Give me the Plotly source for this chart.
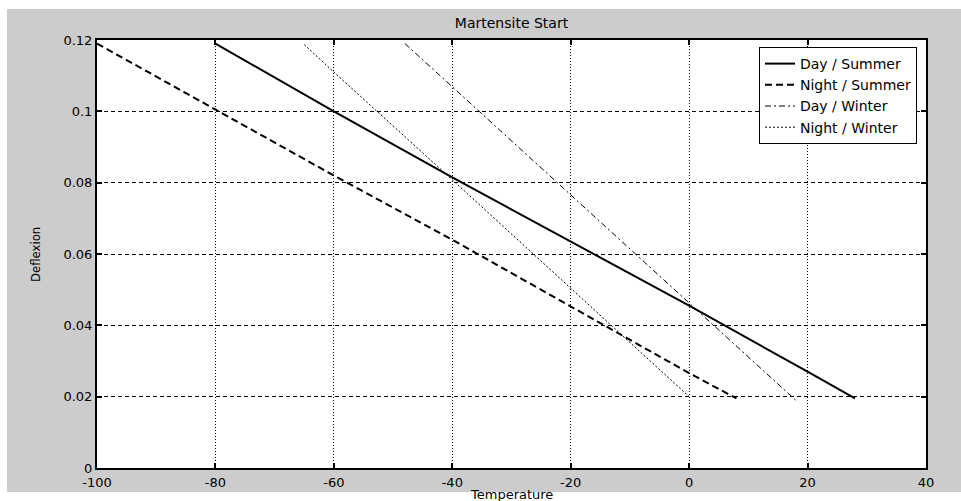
import plotly.graph_objects as go

# ---- data ----
day_summer_T = [-80, -60, -40, -20, 0, 20, 28]
day_summer_D = [0.119, 0.100, 0.0815, 0.0635, 0.0455, 0.027, 0.0195]

night_summer_T = [-100, -80, -60, -40, -20, 0, 8]
night_summer_D = [0.119, 0.1005, 0.082, 0.064, 0.0452, 0.0266, 0.0195]

day_winter_T = [-48, -40, -20, 0, 18]
day_winter_D = [0.119, 0.1069, 0.0766, 0.0463, 0.019]

night_winter_T = [-65, -60, -40, -20, 0]
night_winter_D = [0.1187, 0.111, 0.0808, 0.0504, 0.020]

x_ticks = [-100, -80, -60, -40, -20, 0, 20, 40]
x_tick_labels = ["-100", "-80", "-60", "-40", "-20", "0", "20", "40"]
y_ticks = [0, 0.02, 0.04, 0.06, 0.08, 0.10, 0.12]
y_tick_labels = ["0", "0.02", "0.04", "0.06", "0.08", "0.1", "0.12"]

FONT = "DejaVu Sans, Verdana, sans-serif"
FS = 14
TFS = 13

fig = go.Figure()
fig.add_trace(go.Scatter(x=day_summer_T, y=day_summer_D, mode="lines", name="Day / Summer",
                         line=dict(color="black", width=2)))
fig.add_trace(go.Scatter(x=night_summer_T, y=night_summer_D, mode="lines", name="Night / Summer",
                         line=dict(color="black", width=2, dash="7px,4px")))
fig.add_trace(go.Scatter(x=day_winter_T, y=day_winter_D, mode="lines", name="Day / Winter",
                         line=dict(color="black", width=1, dash="6px,3px,2px,3px")))
fig.add_trace(go.Scatter(x=night_winter_T, y=night_winter_D, mode="lines", name="Night / Winter",
                         line=dict(color="black", width=1, dash="2px,2px")))

W, H = 961, 501
L, R, T, B = 97, 35, 40, 33
pw, ph = W - L - R, H - T - B

def px_x(px):
    return (px - L) / pw

def px_y(py):
    return (H - B - py) / ph

fig.update_layout(
    width=W, height=H,
    margin=dict(l=L, r=R, t=T, b=B),
    paper_bgcolor="#cccccc",
    plot_bgcolor="white",
    font=dict(family=FONT, size=FS, color="black"),
    showlegend=True,
    legend=dict(x=px_x(917), y=px_y(47), xanchor="right", yanchor="top",
                bgcolor="white", bordercolor="black", borderwidth=1,
                font=dict(family=FONT, size=FS), tracegroupgap=0,
                itemwidth=30),
    title=dict(text="Martensite Start", x=(L + pw / 2) / W, xanchor="center",
               y=1 - 23 / H, yanchor="middle", yref="container",
               font=dict(family=FONT, size=FS)),
)

fig.update_xaxes(
    range=[-100, 40], tickvals=x_ticks, ticktext=x_tick_labels, ticks="inside", ticklen=5,
    tickwidth=2, tickcolor="black", showline=True, linecolor="black", linewidth=2,
    mirror="ticks", showgrid=True, gridcolor="black", gridwidth=1, griddash="1px,2px",
    zeroline=False, tickfont=dict(family=FONT, size=TFS), ticklabelstandoff=1,
)
fig.update_yaxes(
    range=[0, 0.12], tickvals=y_ticks, ticktext=y_tick_labels, ticks="inside", ticklen=5,
    tickwidth=2, tickcolor="black", showline=True, linecolor="black", linewidth=2,
    mirror="ticks", showgrid=True, gridcolor="black", gridwidth=1, griddash="4px,3px",
    zeroline=False, tickfont=dict(family=FONT, size=TFS),
)

# white frame around the grey figure area (as in the reference screenshot)
for (x0, x1, y0, y1) in [
    (-2, 3, px_y(9), 3),          # top strip
    (-2, px_x(7), -2, 3),         # left strip
    (-2, 3, -2, px_y(492)),       # bottom strip
]:
    fig.add_shape(type="rect", xref="paper", yref="paper", x0=x0, x1=x1, y0=y0, y1=y1,
                  fillcolor="white", line=dict(width=0), layer="below")

# axis titles
fig.add_annotation(text="Temperature", xref="paper", yref="paper", x=0.5, y=px_y(494),
                   xanchor="center", yanchor="middle", showarrow=False,
                   font=dict(family=FONT, size=TFS))
fig.add_annotation(text="Deflexion", xref="paper", yref="paper", x=px_x(35), y=0.5,
                   xanchor="center", yanchor="middle", showarrow=False, textangle=-90,
                   font=dict(family="DejaVu Sans Condensed, Liberation Sans Narrow, sans-serif", size=13))

fig.write_html("out.html")
